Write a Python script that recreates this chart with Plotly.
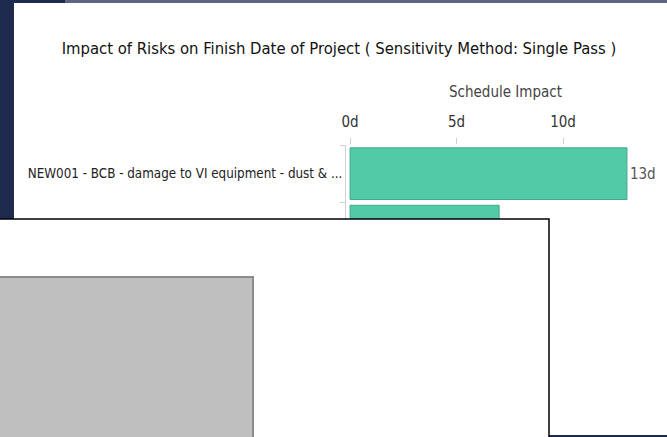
import plotly.graph_objects as go

# risk sensitivity data (single pass)
risks = ["NEW001 - BCB - damage to VI equipment - dust & ...", "NEW002 - ..."]
impact_days = [13, 7]
tick_vals = [0, 5, 10]
tick_text = ["0d", "5d", "10d"]

W, H = 667, 437
font = "DejaVu Sans Condensed, Liberation Sans Narrow, Roboto, sans-serif"


def px_x(v):
    return v / W


def px_y(v):
    return 1 - v / H


fig = go.Figure(go.Bar(
    x=impact_days, y=risks, orientation="h",
    marker=dict(color="#52c9a7", line=dict(color="#3fa98b", width=1)),
    text=[f"{d}d" for d in impact_days], textposition="outside",
    textfont=dict(size=15, color="#555555", family=font),
    cliponaxis=False, hoverinfo="skip",
))

fig.update_layout(
    width=W, height=H,
    margin=dict(l=0, r=0, t=0, b=0, autoexpand=False),
    paper_bgcolor="#1f2a4f", plot_bgcolor="white",
    font=dict(family=font),
    showlegend=False, bargap=0.1,
    title=dict(
        text="Impact of Risks on Finish Date of Project ( Sensitivity Method: Single Pass )",
        x=px_x(339), y=px_y(48), xref="paper", yref="paper",
        xanchor="center", yanchor="middle",
        font=dict(size=16.5, color="#111111", family=font),
    ),
    xaxis=dict(
        domain=[px_x(346), px_x(664)], range=[-0.19, 14.74],
        side="top", tickvals=tick_vals, ticktext=tick_text,
        ticks="outside", ticklen=6, tickcolor="#d0d0d0",
        ticklabelstandoff=5, automargin=False,
        tickfont=dict(size=15, color="#333333"),
        showgrid=False, zeroline=False, showline=False,
    ),
    yaxis=dict(
        domain=[px_y(432), px_y(145)], range=[4.5, -0.5],
        ticks="outside", tickson="boundaries", ticklen=5, tickcolor="#d0d0d0",
        showline=True, linecolor="#d0d0d0", linewidth=1, automargin=False,
        tickfont=dict(size=13.3, color="#222222"),
        showgrid=False, zeroline=False,
    ),
)

# axis title above the top ticks
fig.add_annotation(text="Schedule Impact", xref="paper", yref="paper",
                   x=px_x(505), y=px_y(92), showarrow=False,
                   xanchor="center", yanchor="middle",
                   font=dict(size=15, color="#444444", family=font))

# window frame and white panel behind chart
fig.add_shape(type="rect", xref="paper", yref="paper", layer="below",
              x0=px_x(65), x1=1, y0=px_y(3), y1=1,
              fillcolor="#5d6586", line_width=0)
fig.add_shape(type="rect", xref="paper", yref="paper", layer="below",
              x0=px_x(14), x1=1, y0=px_y(435), y1=px_y(3),
              fillcolor="white", line_width=0)

# overlay box covering the lower part
fig.add_shape(type="rect", xref="paper", yref="paper", layer="above",
              x0=px_x(-2), x1=px_x(549), y0=px_y(440), y1=px_y(219),
              fillcolor="white", line=dict(color="black", width=1.5))
fig.add_shape(type="rect", xref="paper", yref="paper", layer="above",
              x0=px_x(-2), x1=px_x(253), y0=px_y(440), y1=px_y(277),
              fillcolor="#bfbfbf", line=dict(color="#8c8c8c", width=2))

fig.write_html("out.html", config={"displayModeBar": False},
               post_script="document.body.style.margin='0px';")
